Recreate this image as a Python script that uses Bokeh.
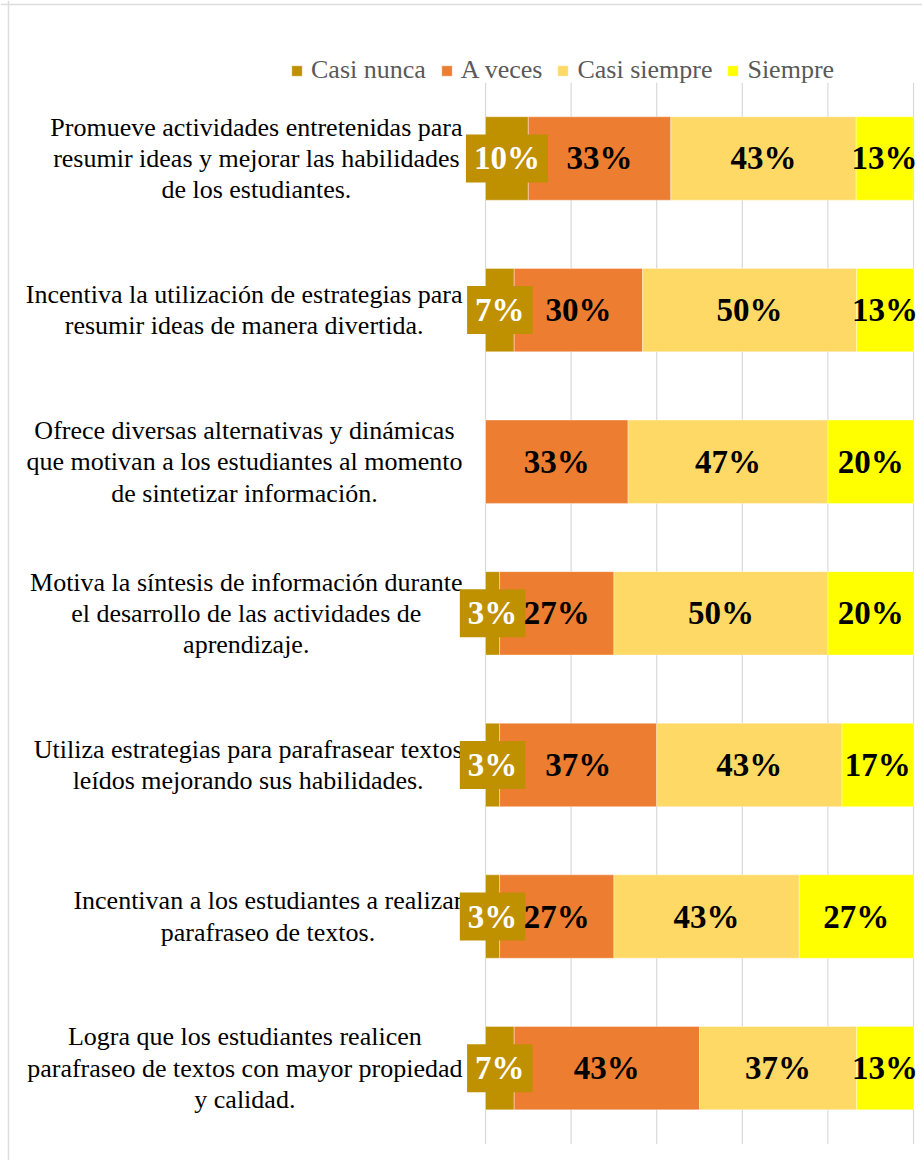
from bokeh.plotting import figure
from bokeh.models import Label, Legend, LegendItem, Range1d, ColumnDataSource, Span
from bokeh.embed import file_html
from bokeh.resources import INLINE

# ---------------- data ----------------
categories = [
    "Promueve actividades entretenidas para\nresumir ideas y mejorar las habilidades\nde los estudiantes.",
    "Incentiva la utilización de estrategias para\nresumir ideas de manera divertida.",
    "Ofrece diversas alternativas y dinámicas\nque motivan a los estudiantes al momento\nde sintetizar información.",
    "Motiva la síntesis de información durante\nel desarrollo de las actividades de\naprendizaje.",
    "Utiliza estrategias para parafrasear textos\nleídos mejorando sus habilidades.",
    "Incentivan a los estudiantes a realizar\nparafraseo de textos.",
    "Logra que los estudiantes realicen\nparafraseo de textos con mayor propiedad\ny calidad.",
]
series = ["Casi nunca", "A veces", "Casi siempre", "Siempre"]
casi_nunca = [10.0, 6.7, 0.0, 3.3, 3.3, 3.3, 6.7]
a_veces = [33.3, 30.0, 33.3, 26.7, 36.7, 26.7, 43.3]
casi_siempre = [43.3, 50.0, 46.7, 50.0, 43.3, 43.3, 36.7]
siempre = [13.3, 13.3, 20.0, 20.0, 16.7, 26.7, 13.3]
colors = ["#BF9000", "#ED7D31", "#FFD966", "#FFFF00"]
grid_ticks = [0, 20, 40, 60, 80, 100]

values = [casi_nunca, a_veces, casi_siempre, siempre]
n = len(categories)
ys = list(range(n, 0, -1))

data = {"y": ys}
for s, v in zip(series, values):
    data[s] = v
src = ColumnDataSource(data)

X0, X1 = -113.32, 102.1
Y0, Y1 = 0.391, 8.042

# frame covers the whole figure so that labels and legend are not clipped
p = figure(width=922, height=1160,
           x_range=Range1d(X0, X1), y_range=Range1d(Y0, Y1),
           output_backend="svg", toolbar_location=None,
           x_axis_location=None, y_axis_location=None,
           min_border=0, min_border_left=0, min_border_right=0,
           min_border_top=0, min_border_bottom=0,
           outline_line_color=None, background_fill_color="white", border_fill_color="white")
p.grid.visible = False

# chart-area border (left and top edges visible in the crop)
p.add_layout(Span(location=X0 + 8 / 4.28, dimension="height", line_color="#DDDDDD", line_width=1.5))
p.add_layout(Span(location=Y1 - 4 / 151.6, dimension="width", line_color="#DDDDDD", line_width=1.5))

# vertical gridlines spanning the category band
p.segment(x0=grid_ticks, x1=grid_ticks, y0=[0.5] * len(grid_ticks), y1=[n + 0.5] * len(grid_ticks),
          line_color="#D9D9D9", line_width=1.2)

renderers = p.hbar_stack(series, y="y", height=0.55, color=colors, source=src,
                         line_color="white", line_width=0.6, line_alpha=0.6)

legend = Legend(items=[LegendItem(label=s, renderers=[r]) for s, r in zip(series, renderers)],
                orientation="horizontal", location=(286, 1071),
                label_text_font="Liberation Serif", label_text_font_size="26px",
                label_text_color="#595959", glyph_width=13, glyph_height=13,
                label_standoff=8, spacing=14, padding=4, margin=0,
                background_fill_alpha=0, border_line_alpha=0)
p.add_layout(legend)

# category labels
for cat, y in zip(categories, ys):
    p.add_layout(Label(x=0, y=y, x_offset=-23, text=cat, anchor="center_right",
                       text_align="center", text_baseline="middle",
                       text_font="Liberation Serif", text_font_size="26px",
                       text_line_height=1.08, text_color="#000000"))

# value labels
for i, vals in enumerate(values):
    for j, v in enumerate(vals):
        if v <= 0:
            continue
        start = sum(values[k][j] for k in range(i))
        cx = start + v / 2
        kw = dict(x=cx, y=ys[j], text=f"{round(v)}%", text_align="center",
                  text_baseline="middle", text_font="Liberation Serif",
                  text_font_size="33px", text_font_style="bold")
        if i == 0:
            p.add_layout(Label(text_color="white", background_fill_color=colors[0],
                               padding=(8, 6), **kw))
        else:
            p.add_layout(Label(text_color="#000000", **kw))

open("out.html", "w").write(file_html(p, INLINE))
